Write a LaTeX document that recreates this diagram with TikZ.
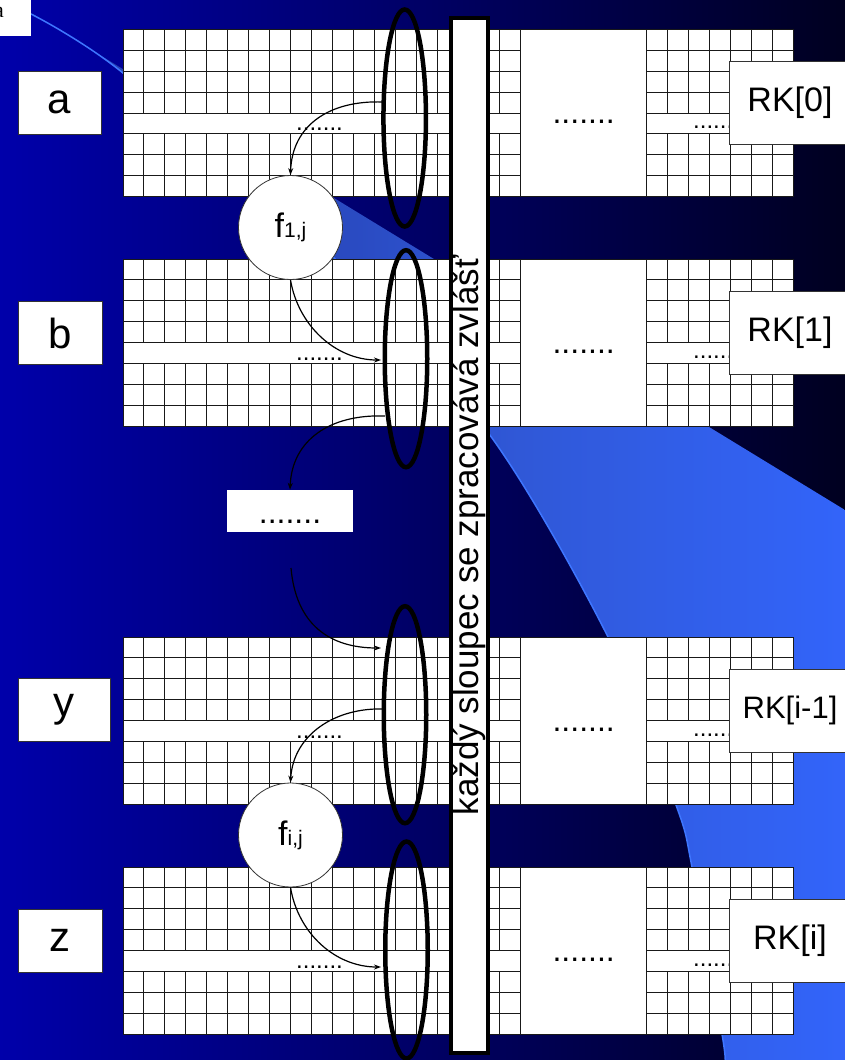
\documentclass[tikz,border=0pt]{standalone}
\usepackage{fontspec}
\setmainfont{Liberation Sans}
\newfontfamily\cornerfont{Liberation Serif}
\usetikzlibrary{arrows.meta,shapes.geometric}
\definecolor{bgL}{RGB}{0,0,170}
\definecolor{bgR}{RGB}{0,0,32}
\definecolor{swA}{RGB}{38,66,180}
\definecolor{swB}{RGB}{48,88,215}
\definecolor{swC}{RGB}{51,102,255}
\definecolor{swHi}{RGB}{62,118,255}
\pgfdeclarehorizontalshading{swoosh}{100bp}{color(0bp)=(swA); color(38bp)=(swA); color(55bp)=(swB); color(78bp)=(swC); color(100bp)=(swC)}
\newcommand\myblock[1]{%
  \fill[white] (123,#1) rectangle (793,#1+167.4);
  \foreach \k in {1,...,7}{\draw[gridln] (123,#1+\k*20.925) -- (793,#1+\k*20.925);}
  \foreach \j in {1,...,31}{\draw[gridln] (123+\j*20.9375,#1) -- (123+\j*20.9375,#1+83.7) (123+\j*20.9375,#1+104.625) -- (123+\j*20.9375,#1+167.4);}
  \draw[gridln] (123,#1) rectangle (793,#1+167.4);
  \draw[gridln,fill=white] (520.8,#1) rectangle (646.6,#1+167.4);
}
\begin{document}
\begin{tikzpicture}[x=1pt,y=-1pt,
  gridln/.style={draw=black!90,line width=0.95pt},
  lbl/.style={draw=black!80,line width=0.8pt,fill=white,inner sep=0pt,minimum height=63pt,font=\fontsize{42}{48}\selectfont},
  rkbox/.style={draw=black!80,line width=0.8pt,fill=white,inner sep=0pt,minimum width=122pt,minimum height=83pt,font=\fontsize{34}{40}\selectfont},
  banddots/.style={inner sep=0pt,anchor=base west,font=\fontsize{24}{28}\selectfont},
  middots/.style={inner sep=0pt,anchor=base,font=\fontsize{32}{36}\selectfont},
  ell/.style={ellipse,draw=black,line width=4.5pt,minimum width=42.5pt,minimum height=217pt,inner sep=0pt},
  fcirc/.style={circle,draw=black!80,line width=0.8pt,fill=white,minimum size=104pt,inner sep=0pt},
  arr/.style={line width=1.2pt,-{Stealth[length=7pt,width=5pt]}}]
\useasboundingbox (0,0) rectangle (845,1060);
\clip (0,0) rectangle (845,1060);
% background
\shade[left color=bgL,right color=bgR] (0,0) rectangle (845,1060);
% swoosh
\shade[shading=swoosh] (31,13) -- (845,510) -- (845,1062) -- plot[smooth] coordinates {(725,1062) (722,1034) (692,867) (676,805) (608,637) (492,438) (335,259) (123,73) (31,14)} -- cycle;
\draw[swHi,line width=1.5pt] plot[smooth] coordinates {(725,1062) (722,1034) (692,867) (676,805) (608,637) (492,438) (335,259) (123,73) (31,14)};
% corner box
\fill[white] (0,0) rectangle (31,36);
\node[inner sep=0pt,anchor=base east,font=\cornerfont\fontsize{22}{22}\selectfont] (corner) at (4,17) {a};
% grid blocks
\myblock{29.3}
\myblock{259}
\myblock{637}
\myblock{867}
% dots in blocks
\foreach \T/\n in {29.3/1,259/2,637/3,867/4}{
  \node[banddots] (bd\n) at (296,\T+101) {.......};
  \node[banddots] (rd\n) at (693,\T+99) {.......};
  \node[middots] (md\n) at (583.7,\T+94) {.......};
}
% left labels
\node[lbl,minimum width=83pt] (la) at (59.5,102.5) {a};
\node[lbl,minimum width=84pt] (lb) at (60,333) {b};
\node[lbl,minimum width=92pt] (ly) at (64,709.5) {y};
\node[lbl,minimum width=84pt] (lz) at (60,940.5) {z};
% RK labels
\node[rkbox] (rk0) at (790,102.8) {RK[0]};
\node[rkbox] (rk1) at (790,332.5) {RK[1]};
\node[rkbox,font=\fontsize{31}{36}\selectfont] (rki1) at (790,710.5) {RK[i-1]};
\node[rkbox] (rki) at (790,940.5) {RK[i]};
% ellipses
\node[ell] (e1) at (404.7,118) {};
\node[ell] (e2) at (406,358.7) {};
\node[ell] (e3) at (405,714.7) {};
\node[ell] (e4) at (406.5,950) {};
% bar
\node[draw=black,line width=4pt,fill=white,rotate=90,minimum width=1035pt,minimum height=37pt,inner sep=0pt,font=\fontsize{35}{40}\selectfont] (bar) at (469.5,535.5) {každý sloupec se zpracovává zvlášť};
% circles
\node[fcirc] (c1) at (290.5,227.5) {\fontsize{34}{40}\selectfont f\fontsize{21}{24}\selectfont 1,j};
\node[fcirc] (c2) at (290.5,835) {\fontsize{34}{40}\selectfont f\fontsize{21}{24}\selectfont i,j};
% middle dots box
\node[fill=white,minimum width=126pt,minimum height=42pt,inner sep=0pt] (dbox) at (290,511) {};
\node[middots] (dd) at (290,523) {.......};
% arrow ends
\coordinate (s1) at (383,102);
\coordinate (t2) at (381,360);
\coordinate (s3) at (385,416);
\coordinate (s4) at (291,568);
\coordinate (t4) at (381,648);
\coordinate (s5) at (385,709);
\coordinate (t6) at (381,967);
% arrows
\draw[arr] (s1) .. controls (330,100) and (292,125) .. (c1.north);
\draw[arr] (c1.south) .. controls (298,325) and (335,360) .. (t2);
\draw[arr] (s3) .. controls (330,414) and (292,440) .. (dbox.north);
\draw[arr] (s4) .. controls (296,625) and (330,648) .. (t4);
\draw[arr] (s5) .. controls (335,707) and (293,735) .. (c2.north);
\draw[arr] (c2.south) .. controls (298,933) and (335,967) .. (t6);
\end{tikzpicture}
\end{document}
